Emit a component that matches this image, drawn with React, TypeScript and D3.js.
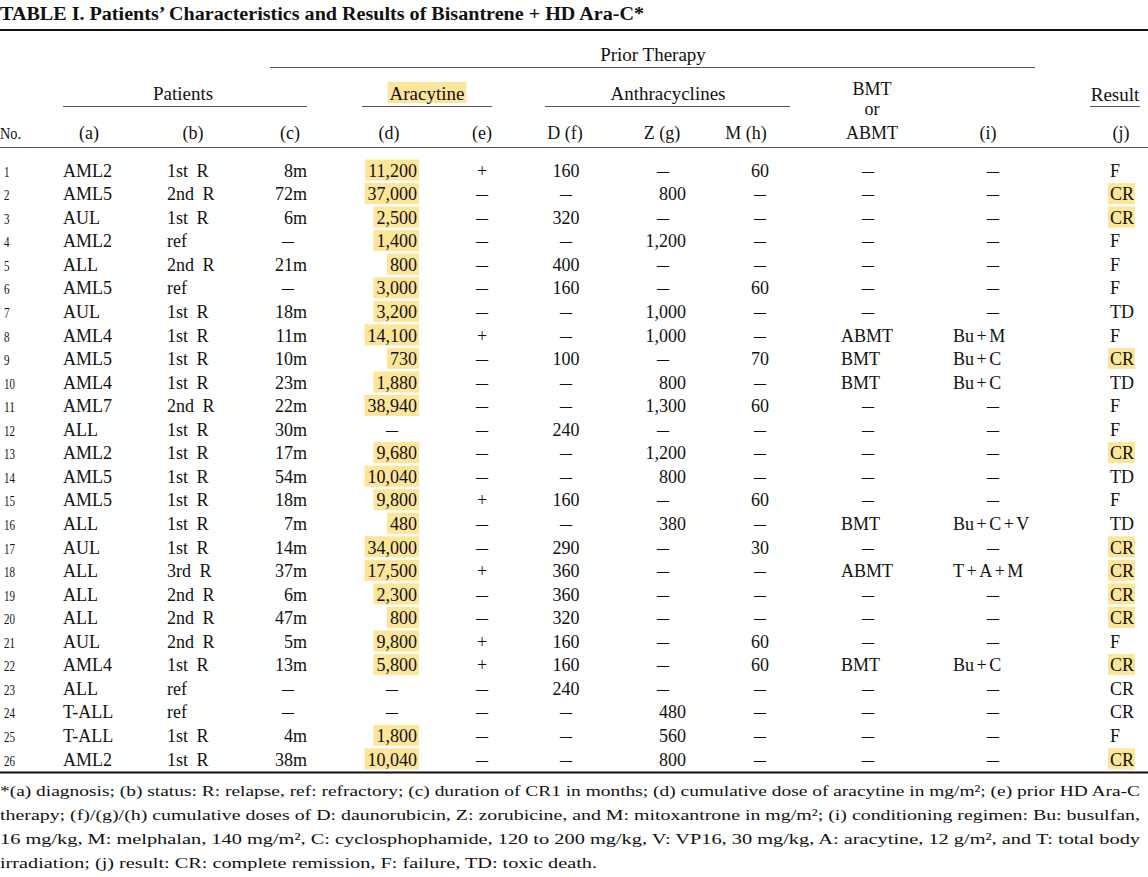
import React, { useEffect, useRef } from "react";
import * as d3 from "d3";

const W = 1148;
const H = 877;
const FONT = "'Liberation Serif', 'Times New Roman', Times, serif";
const HL = "#FDE59A";
const DASH = "–";

// ---------- data ----------
const patientNo = [1, 2, 3, 4, 5, 6, 7, 8, 9, 10, 11, 12, 13, 14, 15, 16, 17, 18, 19, 20, 21, 22, 23, 24, 25, 26];
const diagnosis = ["AML2", "AML5", "AUL", "AML2", "ALL", "AML5", "AUL", "AML4", "AML5", "AML4", "AML7", "ALL", "AML2", "AML5", "AML5", "ALL", "AUL", "ALL", "ALL", "ALL", "AUL", "AML4", "ALL", "T-ALL", "T-ALL", "AML2"];
const status = ["1st R", "2nd R", "1st R", "ref", "2nd R", "ref", "1st R", "1st R", "1st R", "1st R", "2nd R", "1st R", "1st R", "1st R", "1st R", "1st R", "1st R", "3rd R", "2nd R", "2nd R", "2nd R", "1st R", "ref", "ref", "1st R", "1st R"];
const cr1Months = [8, 72, 6, null, 21, null, 18, 11, 10, 23, 22, 30, 17, 54, 18, 7, 14, 37, 6, 47, 5, 13, null, null, 4, 38];
const aracytineDose = [11200, 37000, 2500, 1400, 800, 3000, 3200, 14100, 730, 1880, 38940, null, 9680, 10040, 9800, 480, 34000, 17500, 2300, 800, 9800, 5800, null, null, 1800, 10040];
const priorHDAraC = ["+", "–", "–", "–", "–", "–", "–", "+", "–", "–", "–", "–", "–", "–", "+", "–", "–", "+", "–", "–", "+", "+", "–", "–", "–", "–"];
const daunorubicin = [160, null, 320, null, 400, 160, null, null, 100, null, null, 240, null, null, 160, null, 290, 360, 360, 320, 160, 160, 240, null, null, null];
const zorubicine = [null, 800, null, 1200, null, null, 1000, 1000, null, 800, 1300, null, 1200, 800, null, 380, null, null, null, null, null, null, null, 480, 560, 800];
const mitoxantrone = [60, null, null, null, null, 60, null, null, 70, null, 60, null, null, null, 60, null, 30, null, null, null, 60, 60, null, null, null, null];
const bmt = [null, null, null, null, null, null, null, "ABMT", "BMT", "BMT", null, null, null, null, null, "BMT", null, "ABMT", null, null, null, "BMT", null, null, null, null];
const conditioning = [null, null, null, null, null, null, null, "Bu+M", "Bu+C", "Bu+C", null, null, null, null, null, "Bu+C+V", null, "T+A+M", null, null, null, "Bu+C", null, null, null, null];
const result = ["F", "CR", "CR", "F", "F", "F", "TD", "F", "CR", "TD", "F", "F", "CR", "TD", "F", "TD", "CR", "CR", "CR", "CR", "F", "CR", "CR", "CR", "F", "CR"];
const highlightedResultRows = [2, 3, 9, 13, 17, 18, 19, 20, 22, 26];

const titleText = "TABLE I. Patients’ Characteristics and Results of Bisantrene + HD Ara-C*";
const footnoteLines = [
  "*(a) diagnosis; (b) status: R: relapse, ref: refractory; (c) duration of CR1 in months; (d) cumulative dose of aracytine in mg/m²; (e) prior HD Ara-C",
  "therapy; (f)/(g)/(h) cumulative doses of D: daunorubicin, Z: zorubicine, and M: mitoxantrone in mg/m²; (i) conditioning regimen: Bu: busulfan,",
  "16 mg/kg, M: melphalan, 140 mg/m², C: cyclosphophamide, 120 to 200 mg/kg, V: VP16, 30 mg/kg, A: aracytine, 12 g/m², and T: total body",
  "irradiation; (j) result: CR: complete remission, F: failure, TD: toxic death.",
];
const footnoteWidths = [1140, 1140, 1140, 597];

export default function App() {
  const ref = useRef<SVGSVGElement>(null);

  useEffect(() => {
    const svg = d3.select(ref.current);
    svg.selectAll("*").remove();
    svg.append("rect").attr("width", W).attr("height", H).attr("fill", "#fff");
    const hl = svg.append("g");
    const g = svg.append("g").attr("font-family", FONT).attr("fill", "#111");

    const text = (x: number, y: number, s: string, opts: any = {}) => {
      const t = g
        .append("text")
        .attr("x", x)
        .attr("y", y)
        .attr("font-size", opts.size ?? 18)
        .attr("font-weight", opts.weight ?? "normal")
        .attr("text-anchor", opts.anchor ?? "start")
        .text(s);
      if (opts.len) t.attr("textLength", opts.len).attr("lengthAdjust", "spacingAndGlyphs");
      if (opts.wordSpacing) t.attr("word-spacing", opts.wordSpacing);
      return t;
    };
    const dash = (x: number, y: number) => text(x, y, DASH, { anchor: "middle", len: 12 });
    const highlight = (node: SVGTextElement, top: number, h: number, padL = 3, padR = 2) => {
      const b = node.getBBox();
      hl.append("rect")
        .attr("x", b.x - padL)
        .attr("y", top)
        .attr("width", b.width + padL + padR)
        .attr("height", h)
        .attr("fill", HL);
    };
    const rule = (x1: number, x2: number, y: number, w = 1, c = "#555") =>
      svg.append("line").attr("x1", x1).attr("x2", x2).attr("y1", y).attr("y2", y).attr("stroke", c).attr("stroke-width", w);

    // title
    text(0, 20, titleText, { weight: "bold", size: 18.5, len: 644 });
    rule(0, W, 30, 2.2, "#111");

    // spanning headers
    text(653, 61, "Prior Therapy", { anchor: "middle", size: 19 });
    rule(270, 1035, 67.5);
    text(183, 99.5, "Patients", { anchor: "middle", size: 19 });
    const ara = text(427, 99.5, "Aracytine", { anchor: "middle", size: 19 });
    highlight(ara.node() as SVGTextElement, 82, 21, 2, 2);
    text(668, 99.5, "Anthracyclines", { anchor: "middle", size: 19 });
    text(1115, 101, "Result", { anchor: "middle", size: 19 });
    rule(63, 307, 106.5);
    rule(362, 492, 106.5);
    rule(545, 790, 106.5);
    rule(1090, 1140, 106.5);
    text(872, 94.5, "BMT", { anchor: "middle", size: 18 });
    text(872, 115, "or", { anchor: "middle", size: 18 });

    // column headers
    const hy = 139;
    text(0, hy, "No.", { size: 16, len: 21 });
    const colHeads: [number, string][] = [
      [89, "(a)"], [193, "(b)"], [290, "(c)"], [389, "(d)"], [482, "(e)"],
      [565, "D (f)"], [662, "Z (g)"], [746, "M (h)"], [872, "ABMT"], [988, "(i)"], [1121, "(j)"],
    ];
    colHeads.forEach(([x, s]) => text(x, hy, s, { anchor: "middle", size: 18 }));
    rule(0, W, 147.5);

    // rows
    const rowY = d3.scalePoint<number>().domain(patientNo).range([170.5, 759.3]);
    const fmt = d3.format(",");
    const base = 6.2;

    patientNo.forEach((n, i) => {
      const cy = rowY(n) as number;
      const y = cy + base;
      const ns = String(n);
      text(4, y, ns, { size: 15, len: ns.length * 5.5 });
      text(63, y, diagnosis[i]);
      text(167, y, status[i], { wordSpacing: 4 });
      // (c)
      if (cr1Months[i] == null) dash(288, y);
      else text(307, y, `${cr1Months[i]}m`, { anchor: "end" });
      // (d)
      if (aracytineDose[i] == null) dash(392, y);
      else {
        const t = text(417, y, fmt(aracytineDose[i] as number), { anchor: "end" });
        highlight(t.node() as SVGTextElement, cy - 11, 21, 3, 2);
      }
      // (e)
      if (priorHDAraC[i] === DASH) dash(482, y);
      else text(482, y, priorHDAraC[i], { anchor: "middle" });
      // D
      if (daunorubicin[i] == null) dash(566, y);
      else text(566, y, String(daunorubicin[i]), { anchor: "middle" });
      // Z
      if (zorubicine[i] == null) dash(663, y);
      else text(686, y, fmt(zorubicine[i] as number), { anchor: "end" });
      // M
      if (mitoxantrone[i] == null) dash(760, y);
      else text(760, y, String(mitoxantrone[i]), { anchor: "middle" });
      // BMT
      if (bmt[i] == null) dash(868, y);
      else text(841, y, bmt[i] as string);
      // (i) — "+" set with a little air on each side, as in the print
      if (conditioning[i] == null) dash(993, y);
      else {
        const t = text(953, y, "");
        (conditioning[i] as string).split(/(\+)/).forEach((part, k) => {
          t.append("tspan").attr("dx", k === 0 ? 0 : 2.5).text(part);
        });
      }
      // (j)
      const r = text(1110, y, result[i]);
      if (highlightedResultRows.includes(n)) highlight(r.node() as SVGTextElement, cy - 11, 21, 2, 1);
    });

    rule(0, W, 772.5, 2, "#111");

    // footnotes
    footnoteLines.forEach((s, i) => {
      text(0, 796 + i * 24, s, { size: 15.5, len: footnoteWidths[i] });
    });
  }, []);

  return (
    <svg
      ref={ref}
      width={W}
      height={H}
      style={{ position: "absolute", left: 0, top: 0, display: "block" }}
    />
  );
}
